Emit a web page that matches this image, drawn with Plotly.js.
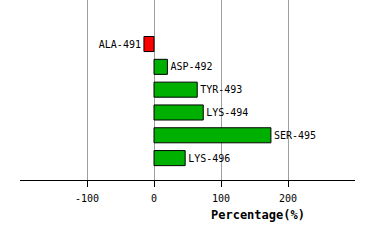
<!DOCTYPE html>
<html><head><meta charset="utf-8">
<script src="https://cdn.plot.ly/plotly-3.0.1.min.js"></script>
<style>html,body{margin:0;padding:0;background:#fff}</style>
</head><body>
<div id="chart" style="width:374px;height:240px"></div>
<script>
var residues = ["ALA-491","ASP-492","TYR-493","LYS-494","SER-495","LYS-496"];
var percentages = [-15, 20, 64.5, 73.5, 174.5, 46.5];
var xTicks = [-100, 0, 100, 200];
var axisTitle = "Percentage(%)";

var colors = percentages.map(function(v){ return v < 0 ? "#ff0000" : "#00b000"; });

var trace = {
  type: "bar",
  orientation: "h",
  x: percentages,
  y: residues,
  width: 0.66,
  marker: {color: colors, line: {color: "#000000", width: 1}},
  text: residues,
  textposition: "outside",
  constraintext: "none",
  cliponaxis: false,
  textfont: {family: "DejaVu Sans Mono", size: 10, color: "#000000"},
  hoverinfo: "none"
};

var layout = {
  width: 374, height: 240,
  margin: {l: 20, r: 19, t: 0, b: 60},
  paper_bgcolor: "#ffffff", plot_bgcolor: "#ffffff",
  showlegend: false,
  xaxis: {
    range: [-200, 300],
    tickvals: xTicks,
    ticktext: xTicks.map(String),
    showgrid: true, gridcolor: "#a0a0a0", gridwidth: 1,
    zeroline: false,
    showline: true, linecolor: "#000000", linewidth: 1,
    ticks: "outside", ticklen: 6, tickcolor: "#000000",
    ticklabelstandoff: 3,
    tickfont: {family: "DejaVu Sans Mono", size: 10, color: "#000000"},
    fixedrange: true
  },
  yaxis: {
    type: "category",
    range: [5.96, -1.93],
    showticklabels: false, showgrid: false, zeroline: false, showline: false, ticks: "",
    fixedrange: true
  },
  annotations: [{
    text: "<b>" + axisTitle + "</b>",
    xref: "paper", yref: "paper",
    x: 0.71, y: 0, yshift: -35,
    xanchor: "center", yanchor: "middle",
    showarrow: false,
    font: {family: "DejaVu Sans Mono", size: 12, color: "#000000"}
  }]
};

Plotly.newPlot("chart", [trace], layout, {staticPlot: true, displayModeBar: false});
</script>
</body></html>
